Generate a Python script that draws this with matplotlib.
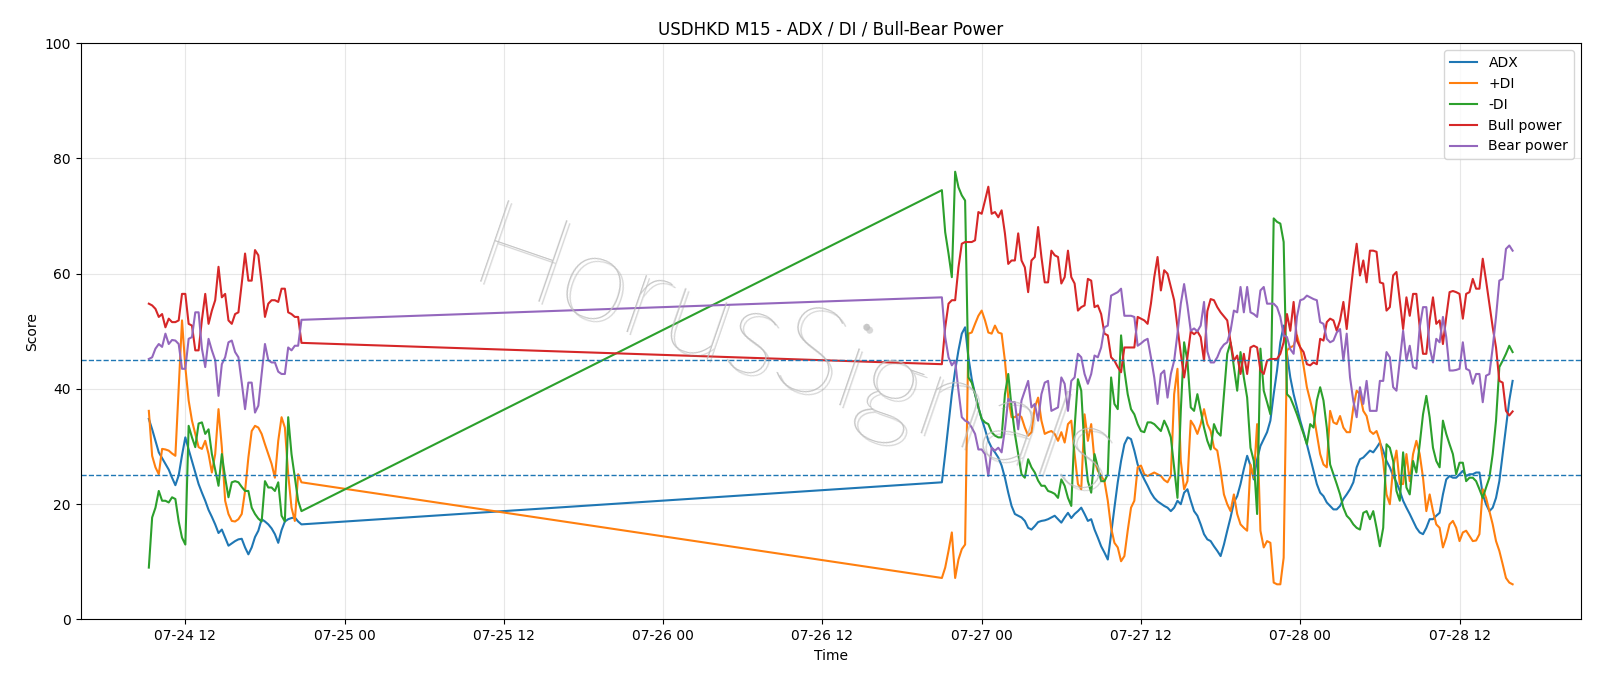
import matplotlib
matplotlib.use("Agg")
import matplotlib.pyplot as plt
import matplotlib.dates as mdates
import matplotlib.transforms as mtransforms
import numpy as np
import pandas as pd

# two trading sessions of 15-minute bars
t1 = pd.date_range("2021-07-24 09:15", periods=47, freq="15min")
t2 = pd.date_range("2021-07-26 21:00", periods=173, freq="15min")

adx1 = [34.8, 33, 31, 29, 28, 27, 26, 24.6, 23.3, 25, 28.5, 31.6, 29.5, 27.5, 25.5, 23.5, 22, 20.6, 19, 17.8,
        16.5, 15, 15.6, 14.2, 12.8, 13.2, 13.6, 13.9, 14, 12.5, 11.3, 12.5, 14.3, 15.4, 17.4, 17, 16.5, 15.8,
        14.8, 13.3, 15.5, 17, 17.4, 17.6, 17.7, 17, 16.5]
adx2 = [23.8, 28.7, 33.9, 39.1, 43.2, 46.7, 49.6, 50.7, 45.5, 41.7, 39.1, 36.8, 34.8, 33, 31, 29.8, 29, 28.1,
        26.7, 24.6, 22, 19.7, 18.3, 18, 17.7, 17.1, 15.9, 15.6, 16.2, 16.9, 17.1, 17.2, 17.4, 17.7, 18, 17.4,
        16.8, 17.7, 18.5,
        17.6, 18.3, 18.8, 19.4, 18.3, 17.1, 17.4, 15.6, 14.2, 12.7, 11.6, 10.4, 14.8, 19.4, 23.8, 27.5, 30.4,
        31.6, 31.3, 29.3, 26.9, 25.5, 24.3, 23.2, 22, 21.1, 20.5, 20.1, 19.7, 19.4, 18.8, 19.4, 20.6, 20, 22,
        22.6, 20.6, 18.8, 18, 16.5, 14.8, 13.9,
        13.6, 12.7, 11.9, 11, 13, 15.4, 17.7, 20.3, 21.4, 23.5, 26.1, 28.4, 26.7, 24.3, 27.8, 30.1, 31.3, 32.5,
        34.5, 39.1, 43.2, 48.1, 51, 46.1, 42, 39.1, 36.8, 34.5, 32.5, 30.4, 28.1, 25.8, 23.5, 22, 21.4, 20.3,
        19.7, 19.1, 19.1, 19.7, 20.9, 21.7,
        22.6, 23.8, 26.4, 27.8, 28.1, 28.7, 29.3, 29, 29.8, 30.7, 29.3, 27.5, 26.4, 24.9, 23.8, 22.3, 20.6,
        19.4, 18.3, 17.1, 15.9, 15.1, 14.8, 15.9, 17.4, 17.4, 18, 18.5, 21.7, 24.3, 24.9, 24.6, 24.6, 25.2,
        25.8, 24.9, 25.2, 25.2, 25.5, 25.5, 21.7, 20, 18.8, 19.4, 21.1, 24, 28.7, 33.3, 38, 41.4]

pdi1 = [36.2, 28.4, 26.4, 25.2, 29.6, 29.5, 29.3, 28.8, 28.4, 40, 51.9, 43.8, 38, 34.5, 32.2, 29.9, 29.6, 31,
        28.7, 25.5, 28.7, 36.5, 29.9, 20.6, 18.3, 17.1, 17, 17.4, 18.3, 22.3, 28.1, 32.7, 33.6, 33.3, 32.2,
        30.4, 28.7, 27, 24.6, 31, 35.1, 33.3, 25.2, 19.4, 17.1, 25.2, 23.8]
pdi2 = [7.2, 9, 11.9, 15.1, 7.2, 10.4, 12.2, 13, 49.6, 49.8, 51.3, 52.7, 53.6, 51.9, 49.8, 49.6, 51, 49.8,
        49.6, 44.9, 38.5, 35.1, 35.1, 35.6, 35.1, 33.3, 31.9, 32.5, 36.8, 38.5, 34.5, 32.2, 32.5, 32.7, 32.2,
        31, 32.5, 30.7, 33.9,
        34.5, 28.7, 23.5, 22.6, 35.6, 31, 33.9, 27.5, 25.8, 24.9, 24, 20.6, 15.9, 13.3, 12.5, 10.1, 11, 15.4,
        19.4, 20.6, 26.4, 26.7, 25.2, 24.9, 25.2, 25.5, 25.2, 24.9, 24.2, 23.8, 24.9, 39.1, 43.5, 27.5, 22.6,
        24, 34.5, 33.6, 32.2, 33.9, 36.5, 33.9,
        32.7, 29.8, 29.3, 25.8, 21.7, 20, 18.8, 21.7, 18.3, 16.5, 15.9, 15.4, 26.9, 24.6, 33.9, 15.4, 12.5,
        13.6, 13.3, 6.4, 6.1, 6.1, 10.7, 46.7, 47.2, 47.5, 49.3, 47.2, 44, 40.3, 38, 35.6, 32.2, 28.7, 26.9,
        26.4, 36.2, 34.2, 33.9, 35.3, 33.3, 32.5,
        32.5, 36.8, 39.7, 39.1, 36.2, 35.3, 32.7, 32.2, 32.7, 31, 27.5, 21.7, 20, 26.4, 29.3, 23.5, 23.5, 28.7,
        24, 28.7, 31, 28.7, 24.6, 18.8, 21.7, 18.8, 16.5, 15.9, 12.5, 14.2, 16.5, 17.1, 15.9, 13.6, 15.1, 15.4,
        14.5, 13.6, 13.7, 14.8, 22.6, 21.1, 18.8, 16.5, 13.6, 11.9, 9.6, 7.2, 6.4, 6.1]

mdi1 = [9, 17.7, 19.4, 22.3, 20.6, 20.6, 20.3, 21.2, 20.9, 17, 14.2, 13, 33.6, 31.6, 29.9, 34, 34.2, 32.2, 33,
        28.7, 26, 23.2, 28.7, 24.6, 21.2, 23.8, 24, 23.8, 23, 22.3, 22.3, 19.4, 18.3, 17.5, 17, 24, 22.9, 22.9,
        22.3, 23.8, 18, 17, 35.1, 28.7, 24.6, 20.6, 18.8]
mdi2 = [74.5, 67.2, 63.5, 59.4, 77.7, 75, 73.6, 72.7, 42, 41.1, 39.1, 36.8, 34.8, 34.2, 33.9, 32.5, 31.9, 31.6,
        31.6, 39.1, 42.6, 36.8, 32.2, 28.7, 25.2, 24.6, 27.8, 26.4, 25.5, 24.1, 23.2, 23.2, 22.3, 22.1, 21.8,
        21.1, 24.3, 23.2, 21.1,
        19.7, 33.3, 41.7, 39.7, 29.3, 24, 22, 28.7, 26.4, 24, 24, 25.2, 42, 37.4, 36.5, 49.3, 43.2, 39.1, 36.5,
        35.6, 33.9, 32.7, 32.5, 34.2, 34.2, 33.9, 33.3, 32.7, 34.5, 33.3, 31.6, 26.4, 21.1, 36.2, 48.1, 44.9,
        36.8, 36.2, 39.1, 36.2, 33.3, 31,
        29.5, 33.9, 32.5, 31.9, 39.1, 46.1, 48.1, 43.8, 39.7, 46.4, 42, 38.5, 29.8, 27.5, 18.3, 47, 39.7, 37.7,
        35.6, 69.6, 69, 68.7, 65.5, 39.1, 38.5, 37.1, 35.6, 33.9, 32.2, 30.4, 33.9, 33.3, 38, 40.3, 38, 33.3,
        26.9, 25.2, 23.5, 21.7, 19.4, 18,
        17.4, 16.5, 15.9, 15.6, 18.5, 18.8, 17.4, 18.8, 15.9, 12.7, 15.9, 30.4, 29.8, 27.5, 22.3, 20.6, 29,
        22.9, 21.7, 27.5, 25.5, 30.4, 35.6, 38.8, 35.1, 29.8, 27.5, 26.4, 34.5, 32.2, 30.4, 28.7, 25.2, 27.2,
        27.2, 24, 24.6, 24.6, 24, 22.6, 21.1, 22.9, 24.6, 28.7, 34.5, 43.8, 44.9, 46.1, 47.5, 46.4]

bull1 = [54.8, 54.5, 53.9, 52.5, 53, 50.7, 52.2, 51.6, 51.6, 51.9, 56.5, 56.5, 51.3, 51, 46.7, 46.7, 52, 56.5,
         51.3, 53.6, 55.4, 61.2, 55.9, 56.5, 51.9, 51.3, 53, 53.3, 58.3, 63.5, 58.8, 58.8, 64.1, 63.2, 58.3,
         52.5, 54.8, 55.4, 55.4, 55.1, 57.4, 57.4, 53.3, 53, 52.5, 52.5, 48]
bull2 = [44.3, 50.7, 54.8, 55.4, 55.4, 61.1, 65.2, 65.5, 65.5, 65.5, 65.8, 70.7, 70.4, 72.7, 75.1, 70.4, 70.7,
         69.8, 71, 67, 61.7, 62.3, 62.3, 67, 62.3, 61.1, 56.8, 62.3, 62.9, 68.1, 62.9, 58.5, 58.5, 64, 63.2,
         62.9, 58.3, 59.4, 64,
         59.4, 58.3, 53.6, 54.2, 54.5, 59.1, 58.8, 54.2, 54.5, 53, 49.6, 49.3, 45.5, 44.9, 43.8, 42.9, 47.2,
         47.2, 47.2, 47.2, 52.5, 52.2, 51.9, 51.3, 54.8, 59.4, 62.9, 57.1, 60.6, 60, 57.7, 55.4, 50.7, 46.1,
         42, 45.5, 50, 49.5, 50, 49, 44.9, 53.5,
         55.6, 55.4, 54.2, 53.3, 52.6, 51.9, 48.1, 44.9, 45.8, 42.6, 46.1, 42.6, 47.2, 47.5, 47.2, 43.2, 42.6,
         44.9, 45.2, 45.2, 45.2, 46.1, 48.1, 53, 50.1, 55.1, 48.4, 47.2, 46.4, 44.3, 44.1, 44.6, 44.3, 48.7,
         48.4, 51.6, 52.2, 51.9, 50.1, 51.9, 55.1, 50.4,
         56, 61.1, 65.2, 59.7, 62.3, 58.5, 64, 64, 63.8, 58.5, 58.3, 53.6, 54.2, 59.7, 60.3, 55.4, 50.4, 55.9,
         52.7, 56.5, 56.5, 50.7, 46.1, 46.1, 51.9, 55.9, 51.3, 51.9, 47.8, 52.5, 56.8, 57, 56.8, 56.5, 52.2,
         56.5, 56.8, 59.1, 57.4, 57.4, 62.6, 58.8, 54.8, 50.7, 47.2, 41.4, 41.1, 36.2, 35.4, 36.1]

bear1 = [45.2, 45.5, 47, 47.8, 47.3, 49.6, 47.8, 48.5, 48.4, 47.8, 43.5, 43.5, 48.7, 49, 53.3, 53.3, 47, 43.8,
         48.7, 46.7, 45, 38.8, 44.3, 45.5, 48.1, 48.4, 46.4, 45.5, 41.1, 36.5, 41.1, 41.1, 35.9, 37.1, 42.6,
         47.8, 45, 44.6, 44.6, 43, 42.6, 42.6, 47.2, 46.7, 47.5, 47.5, 52]
bear2 = [55.9, 49, 45.5, 44.1, 44.9, 39.7, 35.1, 34.5, 34.2, 33.3, 32.2, 29.5, 29.5, 28.7, 24.9, 29.8, 29.3,
         29.8, 29, 33, 38.3, 37.7, 37.7, 33, 38, 39.7, 41.4, 36.8, 37.4, 34.5, 39.1, 41.1, 41.4, 36.2, 36.5,
         36.8, 42, 40.9, 36.2,
         41.4, 42, 46.1, 45.5, 42.6, 40.9, 42.6, 45.8, 45.5, 47.2, 50.7, 51, 56.2, 56.5, 56.8, 57.4, 52.7, 52.7,
         52.7, 52.5, 47.5, 47.9, 48.4, 48.7, 45.5, 42, 37.4, 42.6, 43.2, 38.5, 42.6, 44.9, 49.6, 54.8, 58.2,
         54.5, 50.1, 50.5, 50, 51, 55.1, 46.5,
         44.6, 44.6, 45.5, 46.9, 47.7, 48.1, 50.1, 53.6, 53.3, 57.7, 53.3, 57.7, 53.3, 53, 52.5, 57.1, 57.7,
         54.8, 54.8, 54.8, 54.2, 52.5, 49.3, 49, 46.9, 46.1, 52.5, 55.4, 55.6, 56.2, 55.9, 55.6, 55.4, 51.6,
         51.3, 48.7, 48.1, 48.4, 49.8, 50.4, 44.9, 49.6,
         42, 37.9, 35.1, 40.3, 37.4, 41.4, 36.2, 36.2, 36.2, 41.4, 41.4, 46.4, 45.5, 40.3, 39.7, 44.9, 50.1,
         44.9, 47.5, 43.8, 43.5, 50.7, 54.2, 54.2, 47.2, 44.6, 48.7, 48.1, 52.5, 49, 43.2, 43.2, 43.3, 43.5,
         48.1, 43.5, 43.2, 40.9, 42.6, 42.6, 37.7, 42.3, 42.6, 47.2, 52.5, 58.8, 59.1, 64.3, 64.9, 64]

times = t1.append(t2)
df = pd.DataFrame({
    "ADX": adx1 + adx2,
    "+DI": pdi1 + pdi2,
    "-DI": mdi1 + mdi2,
    "Bull power": bull1 + bull2,
    "Bear power": bear1 + bear2,
}, index=times)

fig, ax = plt.subplots(figsize=(16, 6.86), dpi=100)
fig.subplots_adjust(left=0.0504, right=0.988, top=0.937, bottom=0.097)

for col in df.columns:
    ax.plot(df.index, df[col], label=col, lw=1.5)

ax.axhline(25, color="C0", ls="--", lw=1)
ax.axhline(45, color="C0", ls="--", lw=1)

ax.set_ylim(0, 100)
ax.set_title("USDHKD M15 - ADX / DI / Bull-Bear Power", fontsize=12)
ax.set_xlabel("Time")
ax.set_ylabel("Score")
ax.grid(True, alpha=0.3)
ax.legend(loc="upper right")
ax.xaxis.set_major_locator(mdates.HourLocator(byhour=[0, 12]))
ax.xaxis.set_major_formatter(mdates.DateFormatter("%m-%d %H"))

# watermark: a soft shadow copy, then the text itself
wm = dict(ha="center", va="center", fontsize=88, rotation=-19, fontweight="light", family="Lato")
shadow = mtransforms.offset_copy(ax.transAxes, fig=fig, x=3, y=-3, units="dots")
ax.text(0.475, 0.45, "HorusSignals", transform=shadow, color="#909090", alpha=0.35, zorder=9, **wm)
ax.text(0.475, 0.45, "HorusSignals", transform=ax.transAxes, color="#bdbdbd", alpha=0.85, zorder=10, **wm)

fig.savefig("out.png", dpi=100)
